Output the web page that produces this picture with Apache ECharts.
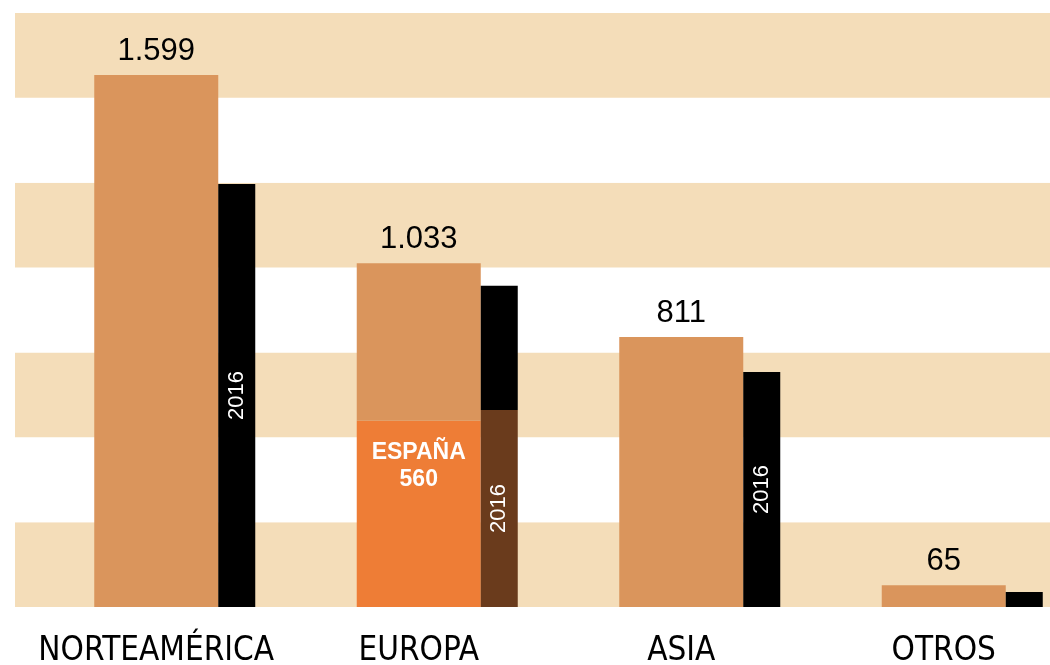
<!DOCTYPE html>
<html>
<head>
<meta charset="utf-8">
<style>
  html, body { margin: 0; padding: 0; background: #ffffff; }
  #chart { width: 1050px; height: 665px; }
</style>
<script src="https://cdn.jsdelivr.net/npm/echarts@6/dist/echarts.min.js"></script>
</head>
<body>
<div id="chart"></div>
<script>
// ---- data ----
const categories = ['NORTEAMÉRICA', 'EUROPA', 'ASIA', 'OTROS'];
const total2017 = [1599, 1033, 811, 65];
const total2016 = [1271, 965, 706, 45];       // estimated from the black bars
const espana2017 = [null, 560, null, null];
const espana2016 = [null, 592, null, null];   // estimated from the dark brown segment
const valueLabels = ['1.599', '1.033', '811', '65'];
const yearLabel = '2016';
const espanaLabel = 'ESPAÑA\n560';

// ---- styles ----
const C_BAND = '#f4ddb9';
const C_TAN = '#da955c';
const C_ORANGE = '#ee7d36';
const C_BROWN = '#6a3b1c';
const C_BLACK = '#000000';
const FONT = '"Liberation Sans", "DejaVu Sans", sans-serif';
const FONT_NARROW = '"Liberation Sans Narrow", "DejaVu Sans Condensed", sans-serif';

const tanRest = total2017.map((v, i) => espana2017[i] != null ? v - espana2017[i] : v);
const blackRest = total2016.map((v, i) => espana2016[i] != null ? v - espana2016[i] : v);

const yearLabelStyle = {
  show: true, position: 'inside', rotate: 90, formatter: yearLabel,
  color: '#ffffff', fontFamily: FONT, fontSize: 22
};

const chart = echarts.init(document.getElementById('chart'), null, { renderer: 'canvas' });
chart.setOption({
  animation: false,
  backgroundColor: '#ffffff',
  grid: [
    { left: 15, right: 0, top: 13, bottom: 58 },          // background bands
    { left: 25, width: 1050, top: 13, bottom: 58, outerBoundsMode: 'none' }  // bars
  ],
  xAxis: [
    { gridIndex: 0, type: 'value', min: 0, max: 1, show: false },
    {
      gridIndex: 1, type: 'category', data: categories,
      axisLine: { show: false }, axisTick: { show: false },
      axisLabel: { interval: 0, color: '#000', fontFamily: FONT_NARROW, fontSize: 33, margin: 28 }
    }
  ],
  yAxis: [
    {
      gridIndex: 0, type: 'value', min: 0, max: 7, interval: 1,
      axisLine: { show: false }, axisTick: { show: false }, axisLabel: { show: false },
      splitLine: { show: false },
      splitArea: { show: true, areaStyle: { color: [C_BAND, '#ffffff'] } }
    },
    {
      gridIndex: 1, type: 'value', min: 0, max: 1785,
      axisLine: { show: false }, axisTick: { show: false }, axisLabel: { show: false },
      splitLine: { show: false }
    }
  ],
  series: [
    { // spacer so the 2017 bar sits centred on its category
      type: 'bar', xAxisIndex: 1, yAxisIndex: 1, stack: 'sp', barWidth: 37, barGap: '0%',
      data: categories.map(() => 0), itemStyle: { color: 'rgba(0,0,0,0)' }, silent: true
    },
    {
      type: 'bar', xAxisIndex: 1, yAxisIndex: 1, stack: 'y17', barWidth: 124,
      data: espana2017, itemStyle: { color: C_ORANGE },
      label: {
        show: true, position: 'insideTop', distance: 19, formatter: espanaLabel,
        color: '#ffffff', fontFamily: FONT, fontSize: 23, fontWeight: 'bold', lineHeight: 27, align: 'center'
      }
    },
    {
      type: 'bar', xAxisIndex: 1, yAxisIndex: 1, stack: 'y17', barWidth: 124,
      data: tanRest, itemStyle: { color: C_TAN },
      label: {
        show: true, position: 'top', distance: 8,
        formatter: p => valueLabels[p.dataIndex],
        color: '#000', fontFamily: FONT, fontSize: 31
      }
    },
    {
      type: 'bar', xAxisIndex: 1, yAxisIndex: 1, stack: 'y16', barWidth: 37,
      data: espana2016.map(v => v == null ? null : { value: v, label: yearLabelStyle }),
      itemStyle: { color: C_BROWN }
    },
    {
      type: 'bar', xAxisIndex: 1, yAxisIndex: 1, stack: 'y16', barWidth: 37,
      data: blackRest.map((v, i) => {
        const showLabel = espana2016[i] == null && total2016[i] > 200;
        return showLabel ? { value: v, label: yearLabelStyle } : v;
      }),
      itemStyle: { color: C_BLACK }
    }
  ]
});
</script>
</body>
</html>
